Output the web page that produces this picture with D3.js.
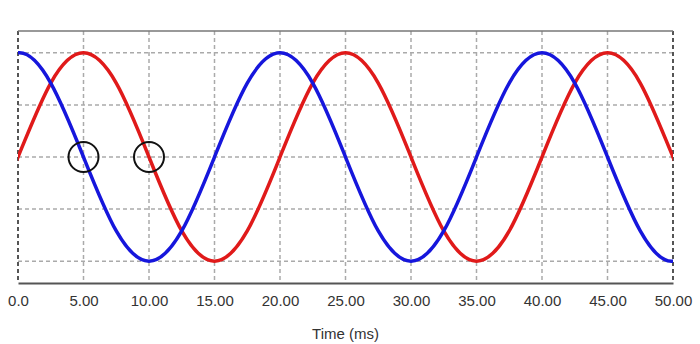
<!DOCTYPE html>
<html>
<head>
<meta charset="utf-8">
<script src="https://cdn.jsdelivr.net/npm/d3@7"></script>
<style>
body { margin: 0; background: #fff; }
</style>
</head>
<body>
<script>
var width = 700;
var height = 344;

// time samples (ms), read every 2.5 ms; one sample past each edge, clipped away
var times = [-2.5, 0, 2.5, 5, 7.5, 10, 12.5, 15, 17.5, 20, 22.5, 25, 27.5, 30, 32.5, 35, 37.5, 40, 42.5, 45, 47.5, 50, 52.5];
// red trace, starts at zero going up
var redValues = [-0.71, 0, 0.71, 1, 0.71, 0, -0.71, -1, -0.71, 0, 0.71, 1, 0.71, 0, -0.71, -1, -0.71, 0, 0.71, 1, 0.71, 0, -0.71];
// blue trace, starts at the top
var blueValues = [0.71, 1, 0.71, 0, -0.71, -1, -0.71, 0, 0.71, 1, 0.71, 0, -0.71, -1, -0.71, 0, 0.71, 1, 0.71, 0, -0.71, -1, -0.71];
var xTicks = [0, 5, 10, 15, 20, 25, 30, 35, 40, 45, 50];
var xTickLabels = ["0.0", "5.00", "10.00", "15.00", "20.00", "25.00", "30.00", "35.00", "40.00", "45.00", "50.00"];
var yGrid = [-1, -0.5, 0, 0.5, 1];
// marked points (ms, value)
var markers = [[5, 0], [10, 0]];

var plotLeft = 18, plotRight = 673, plotTop = 31, plotBottom = 283;

var x = d3.scaleLinear().domain([0, 50]).range([plotLeft, plotRight]);
var y = d3.scaleLinear().domain([-1.21, 1.21]).range([plotBottom, plotTop]);

var svg = d3.select("body")
	.append("svg")
	.attr("width", width)
	.attr("height", height);

svg.append("clipPath")
	.attr("id", "plot-clip")
	.append("rect")
	.attr("x", plotLeft)
	.attr("y", plotTop)
	.attr("width", plotRight - plotLeft)
	.attr("height", plotBottom - plotTop);

// grid
svg.append("g")
	.selectAll("line")
	.data(yGrid)
	.enter()
	.append("line")
	.attr("x1", plotLeft)
	.attr("x2", plotRight)
	.attr("y1", function(d) { return y(d); })
	.attr("y2", function(d) { return y(d); })
	.style("stroke", "#aaa")
	.style("stroke-width", 1.5)
	.style("stroke-dasharray", "4,3");

svg.append("g")
	.selectAll("line")
	.data(xTicks)
	.enter()
	.append("line")
	.attr("x1", function(d) { return x(d); })
	.attr("x2", function(d) { return x(d); })
	.attr("y1", plotTop)
	.attr("y2", plotBottom)
	.style("stroke", function(d, i) { return (i == 0 || i == xTicks.length - 1) ? "#555" : "#aaa"; })
	.style("stroke-width", function(d, i) { return (i == 0 || i == xTicks.length - 1) ? 2 : 1.5; })
	.style("stroke-dasharray", "4,3");

// frame top
svg.append("line")
	.attr("x1", plotLeft).attr("x2", plotRight)
	.attr("y1", plotTop).attr("y2", plotTop)
	.style("stroke", "#777")
	.style("stroke-width", 1.5);

// x axis
var axis = d3.axisBottom(x)
	.tickValues(xTicks)
	.tickSize(0)
	.tickPadding(12)
	.tickFormat(function(d, i) { return xTickLabels[i]; });

var gx = svg.append("g")
	.attr("transform", "translate(0," + plotBottom + ")")
	.call(axis);
gx.select(".domain")
	.style("stroke", "#555")
	.style("stroke-width", 2);
gx.selectAll("text")
	.style("font-family", "Arial, 'Liberation Sans', sans-serif")
	.style("font-size", "15px")
	.style("fill", "#333");

svg.append("text")
	.attr("x", (plotLeft + plotRight) / 2)
	.attr("y", 339)
	.attr("text-anchor", "middle")
	.style("font-family", "Arial, 'Liberation Sans', sans-serif")
	.style("font-size", "15px")
	.style("fill", "#333")
	.text("Time (ms)");

// traces
var line = d3.line()
	.x(function(d) { return x(d[0]); })
	.y(function(d) { return y(d[1]); })
	.curve(d3.curveNatural);

var series = [
	{ color: "#e01a1a", values: redValues },
	{ color: "#1616dc", values: blueValues }
];

svg.append("g")
	.attr("clip-path", "url(#plot-clip)")
	.selectAll("path")
	.data(series)
	.enter()
	.append("path")
	.attr("d", function(s) {
		return line(times.map(function(t, i) { return [t, s.values[i]]; }));
	})
	.style("fill", "none")
	.style("stroke", function(s) { return s.color; })
	.style("stroke-width", 3.5);

svg.append("g")
	.selectAll("circle")
	.data(markers)
	.enter()
	.append("circle")
	.attr("cx", function(d) { return x(d[0]); })
	.attr("cy", function(d) { return y(d[1]); })
	.attr("r", 15)
	.style("fill", "none")
	.style("stroke", "#111")
	.style("stroke-width", 2);
</script>
</body>
</html>
